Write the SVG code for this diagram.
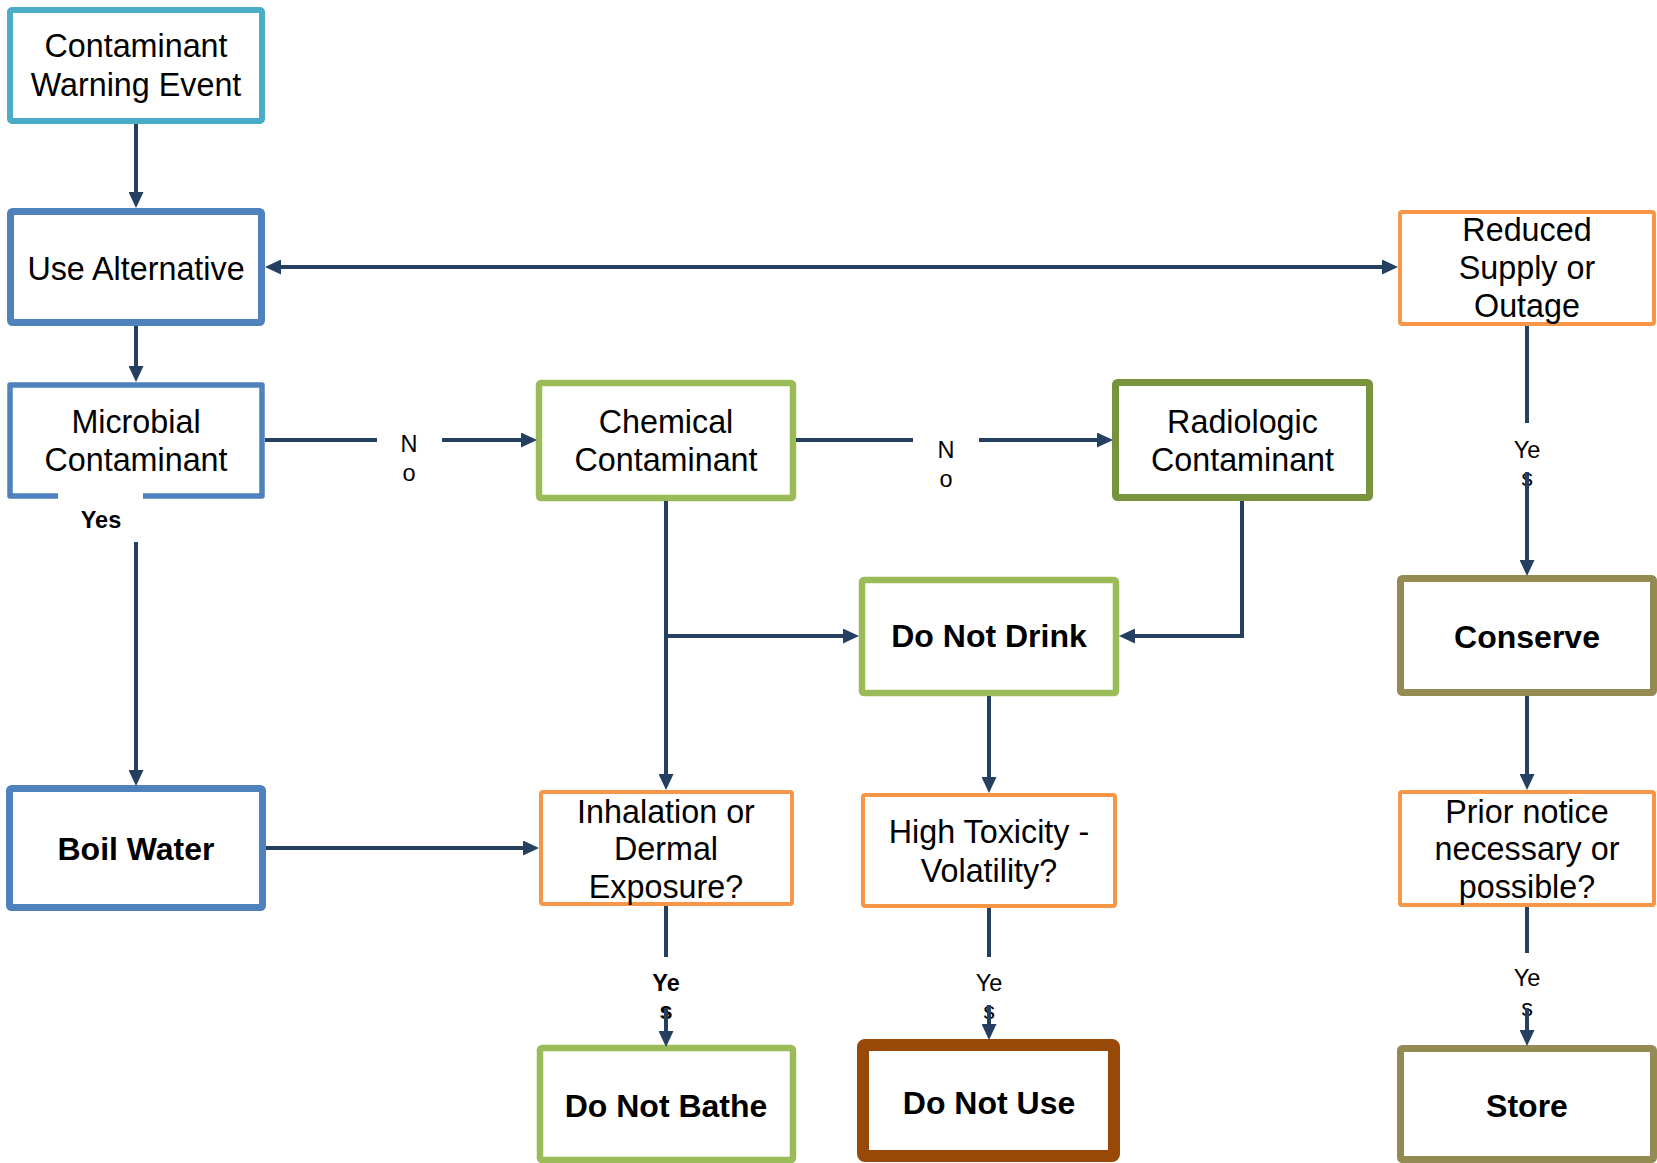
<svg xmlns="http://www.w3.org/2000/svg" width="1657" height="1163" viewBox="0 0 1657 1163">
<style>
.box{fill:#fff;}
.t{font-family:"Liberation Sans",Arial,sans-serif;font-size:32.3px;fill:#000;text-anchor:middle;}
.b{font-family:"Liberation Sans",Arial,sans-serif;font-size:32px;font-weight:bold;fill:#000;text-anchor:middle;}
.l{font-family:"Liberation Sans",Arial,sans-serif;font-size:23.5px;fill:#000;text-anchor:middle;}
.lb{font-family:"Liberation Sans",Arial,sans-serif;font-size:23.5px;font-weight:bold;fill:#000;text-anchor:middle;}
.c{fill:none;stroke:#243F60;stroke-width:4;}
.a{marker-end:url(#arr);}
</style>
<defs>
<marker id="arr" viewBox="0 0 16 15" refX="11" refY="7.5" markerWidth="16" markerHeight="15" markerUnits="userSpaceOnUse" orient="auto-start-reverse">
<path d="M0,0 L16,7.5 L0,15 z" fill="#243F60"/>
</marker>
</defs>
<rect width="1657" height="1163" fill="#fff"/>

<g id="n-warning">
<rect class="box" x="10" y="10" width="252" height="111" rx="2" stroke="#4BACC6" stroke-width="6"/>
<text class="t" x="136" y="57">Contaminant</text>
<text class="t" x="136" y="96">Warning Event</text>
</g>
<g id="n-usealt">
<rect class="box" x="10.5" y="211.5" width="251" height="111" rx="2" stroke="#4F81BD" stroke-width="7"/>
<text class="t" x="136" y="280">Use Alternative</text>
</g>
<g id="n-microbial">
<rect x="10" y="385" width="252" height="111" fill="#fff"/>
<path d="M58,496 H10 V385 H262 V496 H143" fill="none" stroke="#4F81BD" stroke-width="5.5" stroke-linejoin="round"/>
<text class="t" x="136" y="433">Microbial</text>
<text class="t" x="136" y="471">Contaminant</text>
</g>
<g id="n-chemical">
<rect class="box" x="539" y="383" width="254" height="115" rx="2" stroke="#9BBB59" stroke-width="6.5"/>
<text class="t" x="666" y="433">Chemical</text>
<text class="t" x="666" y="471">Contaminant</text>
</g>
<g id="n-radiologic">
<rect class="box" x="1115.5" y="382.5" width="254" height="115" rx="2" stroke="#77933C" stroke-width="7"/>
<text class="t" x="1242.5" y="433">Radiologic</text>
<text class="t" x="1242.5" y="471">Contaminant</text>
</g>
<g id="n-reduced">
<rect class="box" x="1400" y="212" width="254" height="112" rx="2" stroke="#F79646" stroke-width="4"/>
<text class="t" x="1527" y="241">Reduced</text>
<text class="t" x="1527" y="279">Supply or</text>
<text class="t" x="1527" y="317">Outage</text>
</g>
<g id="n-donotdrink">
<rect class="box" x="862" y="580" width="254" height="113" rx="2" stroke="#9BBB59" stroke-width="6.5"/>
<text class="b" x="989" y="647">Do Not Drink</text>
</g>
<g id="n-conserve">
<rect class="box" x="1400.5" y="578.5" width="253" height="114" rx="2" stroke="#948A54" stroke-width="7"/>
<text class="b" x="1527" y="648">Conserve</text>
</g>
<g id="n-boil">
<rect class="box" x="9.5" y="788.5" width="253" height="119" rx="2" stroke="#4F81BD" stroke-width="7"/>
<text class="b" x="136" y="860">Boil Water</text>
</g>
<g id="n-inhalation">
<rect class="box" x="541" y="792" width="251" height="112" rx="2" stroke="#F79646" stroke-width="4"/>
<text class="t" x="666" y="823">Inhalation or</text>
<text class="t" x="666" y="860">Dermal</text>
<text class="t" x="666" y="898">Exposure?</text>
</g>
<g id="n-hightox">
<rect class="box" x="863" y="795" width="252" height="111" rx="2" stroke="#F79646" stroke-width="4"/>
<text class="t" x="989" y="843">High Toxicity -</text>
<text class="t" x="989" y="882">Volatility?</text>
</g>
<g id="n-prior">
<rect class="box" x="1400" y="792" width="254" height="113" rx="2" stroke="#F79646" stroke-width="4"/>
<text class="t" x="1527" y="823">Prior notice</text>
<text class="t" x="1527" y="860">necessary or</text>
<text class="t" x="1527" y="898">possible?</text>
</g>
<g id="n-donotbathe">
<rect class="box" x="540" y="1048" width="253" height="112" rx="2" stroke="#9BBB59" stroke-width="6.5"/>
<text class="b" x="666" y="1117">Do Not Bathe</text>
</g>
<g id="n-donotuse">
<rect class="box" x="863" y="1045" width="251" height="111" rx="2" stroke="#984807" stroke-width="12"/>
<text class="b" x="989" y="1114">Do Not Use</text>
</g>
<g id="n-store">
<rect class="box" x="1400.5" y="1048.5" width="253" height="111" rx="2" stroke="#948A54" stroke-width="7"/>
<text class="b" x="1527" y="1117">Store</text>
</g>

<g id="connectors">
<text class="l" x="409" y="452">N</text>
<text class="l" x="409" y="481">o</text>
<text class="l" x="946" y="458">N</text>
<text class="l" x="946" y="487">o</text>
<text class="lb" x="101" y="528">Yes</text>
<text class="lb" x="666" y="991">Ye</text>
<text class="lb" x="666" y="1019">s</text>
<text class="l" x="989" y="991">Ye</text>
<text class="l" x="989" y="1019">s</text>
<text class="l" x="1527" y="458">Ye</text>
<text class="l" x="1527" y="486">s</text>
<text class="l" x="1527" y="986">Ye</text>
<text class="l" x="1527" y="1016">s</text>

<path class="c a" d="M136,124 V203"/>
<path class="c" d="M270,267 H1393" marker-start="url(#arr)" marker-end="url(#arr)"/>
<path class="c a" d="M136,326 V377"/>
<path class="c" d="M265,440 H377"/>
<path class="c a" d="M442,440 H532"/>
<path class="c" d="M796,440 H913"/>
<path class="c a" d="M979,440 H1108"/>
<path class="c a" d="M136,542 V781"/>
<path class="c a" d="M666,501 V785"/>
<path class="c a" d="M666,636 H854"/>
<path class="c a" d="M1242,501 V636 H1124"/>
<path class="c a" d="M989,696 V788"/>
<path class="c a" d="M266,848 H534"/>
<path class="c" d="M666,906 V957"/>
<path class="c a" d="M666,1008 V1042"/>
<path class="c" d="M989,908 V957"/>
<path class="c a" d="M989,1005 V1035"/>
<path class="c" d="M1527,326 V423"/>
<path class="c a" d="M1527,472 V571"/>
<path class="c a" d="M1527,696 V785"/>
<path class="c" d="M1527,907 V953"/>
<path class="c a" d="M1527,1008 V1041"/>
</g>
</svg>
